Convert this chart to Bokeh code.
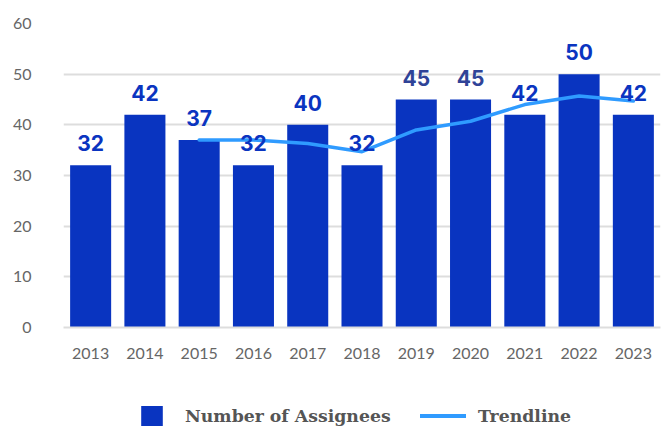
from bokeh.plotting import figure
from bokeh.models import ColumnDataSource, Legend, LegendItem, FixedTicker, Range1d
from bokeh.layouts import column
from bokeh.core.properties import value
from bokeh.embed import file_html
from bokeh.resources import INLINE

years = ["2013", "2014", "2015", "2016", "2017", "2018", "2019", "2020", "2021", "2022", "2023"]
assignees = [32, 42, 37, 32, 40, 32, 45, 45, 42, 50, 42]
label_colors = ["#0a34c0", "#0a34c0", "#0a34c0", "#0a34c0", "#0a34c0", "#0a34c0",
                "#2f4397", "#2f4397", "#0a34c0", "#0a34c0", "#0a34c0"]
trend_years = ["2015", "2016", "2017", "2018", "2019", "2020", "2021", "2022", "2023"]
trend_values = [37, 37, 36.3, 34.7, 39, 40.7, 44, 45.7, 44.7]
y_ticks = [0, 10, 20, 30, 40, 50, 60]

BAR = "#0934c0"
TREND = "#2f9bff"

src = ColumnDataSource(dict(x=years, y=assignees, lab=[str(v) for v in assignees], col=label_colors))
tsrc = ColumnDataSource(dict(x=trend_years, y=trend_values))

p = figure(x_range=years, y_range=Range1d(0, 60), width=662, height=370,
           output_backend="svg", toolbar_location=None,
           min_border_left=63, min_border_right=2, min_border_top=23, min_border_bottom=43)
p.outline_line_color = None
p.background_fill_color = "white"
p.border_fill_color = "white"

p.vbar(x="x", top="y", width=0.756, source=src, color=BAR, line_color=None)
p.line(x="x", y="y", source=tsrc, line_color=TREND, line_width=3.5, line_cap="round")
p.text(x="x", y="y", text="lab", source=src, text_align="center", text_baseline="bottom",
       y_offset=-14, text_font=value("Inter"), text_font_style="bold", text_font_size="21px",
       text_color="col")

p.yaxis.ticker = FixedTicker(ticks=y_ticks)
p.yaxis.axis_line_color = None
p.yaxis.major_tick_line_color = None
p.yaxis.minor_tick_line_color = None
p.yaxis.major_label_standoff = 26
p.yaxis.major_label_text_font = "Lato"
p.yaxis.major_label_text_font_size = "16px"
p.yaxis.major_label_text_color = "#666666"

p.xaxis.axis_line_color = "#dddddd"
p.xaxis.axis_line_width = 2
p.xaxis.major_tick_line_color = None
p.xaxis.minor_tick_line_color = None
p.xaxis.major_label_standoff = 14
p.xaxis.major_label_text_font = "Lato"
p.xaxis.major_label_text_font_size = "16px"
p.xaxis.major_label_text_color = "#666666"

p.xgrid.grid_line_color = None
p.ygrid.grid_line_color = "#dddddd"
p.ygrid.grid_line_width = 2

# legend strip (its frame is aligned with the chart frame, which starts at x=63)
lp = figure(width=662, height=58, x_range=Range1d(0, 1), y_range=Range1d(0, 1),
            output_backend="svg", toolbar_location=None,
            x_axis_location=None, y_axis_location=None,
            min_border_left=63, min_border_right=2, min_border_top=0, min_border_bottom=0)
lp.outline_line_color = None
lp.xgrid.grid_line_color = None
lp.ygrid.grid_line_color = None
# off-range placeholder renderers, used only for their legend swatches
r_bar = lp.vbar(x=[-10], top=[-10], bottom=[-11], width=0.5, color=BAR, line_color=None)
r_line = lp.line(x=[-10, -9], y=[-10, -10], line_color=TREND, line_width=4, line_cap="round")

common = dict(orientation="horizontal", glyph_height=25,
              label_text_font="DejaVu Serif", label_text_font_style="bold",
              label_text_font_size="17.3px", label_text_color="#555555",
              border_line_color=None, background_fill_alpha=0, margin=0, padding=0)
leg1 = Legend(items=[LegendItem(label="Number of Assignees", renderers=[r_bar])],
              location=(75, 0), glyph_width=27, label_standoff=20, **common)
leg2 = Legend(items=[LegendItem(label="Trendline", renderers=[r_line])],
              location=(357, 0), glyph_width=46, label_standoff=12, **common)
lp.add_layout(leg1, "center")
lp.add_layout(leg2, "center")

layout = column(p, lp, spacing=0)
open("out.html", "w").write(file_html(layout, INLINE))
